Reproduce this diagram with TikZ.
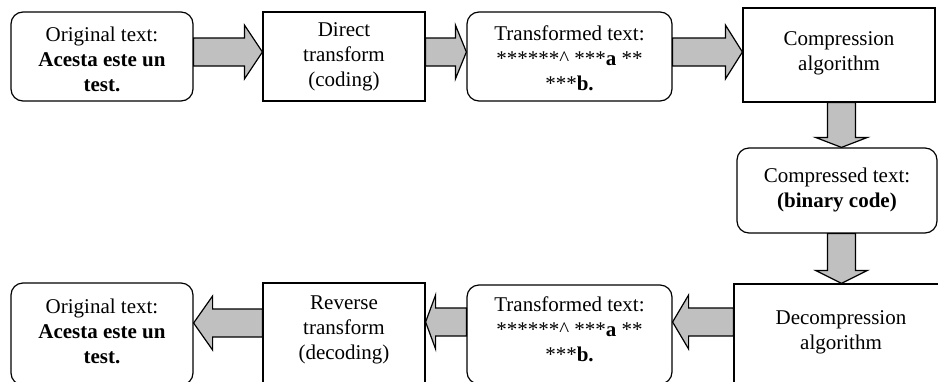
\documentclass[tikz,border=0pt]{standalone}
\usepackage{fontspec}
\setmainfont{Liberation Serif}
\usetikzlibrary{calc}
\definecolor{arrowgray}{RGB}{192,192,192}
\newcommand\rarrow[4]{%
\draw[fat] let \p1=(#1), \p2=(#2) in (\x1,#3-14) -- (\x2-#4,#3-14) -- (\x2-#4,#3-27) -- (\x2,#3) -- (\x2-#4,#3+27) -- (\x2-#4,#3+14) -- (\x1,#3+14) -- cycle;}
\newcommand\larrow[4]{%
\draw[fat] let \p1=(#1), \p2=(#2) in (\x1,#3-14) -- (\x2+#4,#3-14) -- (\x2+#4,#3-27) -- (\x2,#3) -- (\x2+#4,#3+27) -- (\x2+#4,#3+14) -- (\x1,#3+14) -- cycle;}
\newcommand\darrow[4]{%
\draw[fat] let \p1=(#1), \p2=(#2) in (#3-14,\y1) -- (#3-14,\y2+#4) -- (#3-26,\y2+#4) -- (#3,\y2) -- (#3+26,\y2+#4) -- (#3+14,\y2+#4) -- (#3+14,\y1) -- cycle;}
\begin{document}
\begin{tikzpicture}[x=1pt,y=-1pt,
 box/.style={draw=black,line width=1.2pt,inner sep=0pt,fill=white},
 rbox/.style={box,rounded corners=12pt},
 txt/.style={align=center,inner sep=0pt,font=\fontsize{21}{25}\selectfont},
 fat/.style={draw=black,fill=arrowgray,line width=1.2pt,line join=miter}]
\useasboundingbox[clip] (0,0) rectangle (938,381);
\fill[white] (0,0) rectangle (938,381);
% top row
\node[rbox,minimum width=182,minimum height=89] (A) at (102,56.5) {};
\node[txt] (At) at ($(A.center)+(0,3)$) {Original text:\\\textbf{Acesta este un}\\\textbf{test.}};
\node[box,minimum width=162,minimum height=89] (B) at (344,56.5) {};
\node[txt] (Bt) at ($(B.center)+(0,0)$) {Direct\\transform\\(coding)};
\node[rbox,minimum width=205,minimum height=89] (C) at (569.5,56.5) {};
\node[txt] (Ct) at ($(C.center)+(0,2)$) {Transformed text:\\******\textasciicircum{} ***\textbf{a} **\\***\textbf{b.}};
\node[box,minimum width=192,minimum height=94] (D) at (839,55) {};
\node[txt] (Dt) at ($(D.center)+(0,-2)$) {Compression\\algorithm};
% right column
\node[rbox,minimum width=200,minimum height=85] (E) at (837,190.5) {};
\node[txt] (Et) at ($(E.center)+(0,-1)$) {Compressed text:\\\textbf{(binary code)}};
% bottom row
\node[box,minimum width=214,minimum height=100] (F) at (841,334) {};
\node[txt] (Ft) at ($(F.center)+(0,-2)$) {Decompression\\algorithm};
\node[rbox,minimum width=205,minimum height=99] (G) at (569.5,334.5) {};
\node[txt] (Gt) at ($(G.center)+(0,-5)$) {Transformed text:\\******\textasciicircum{} ***\textbf{a} **\\***\textbf{b.}};
\node[box,minimum width=162,minimum height=101] (H) at (344,333.5) {};
\node[txt] (Ht) at ($(H.center)+(0,-4)$) {Reverse\\transform\\(decoding)};
\node[rbox,minimum width=182,minimum height=102] (I) at (102,334) {};
\node[txt] (It) at ($(I.center)+(0,-3)$) {Original text:\\\textbf{Acesta este un}\\\textbf{test.}};
% arrows
\rarrow{A.east}{B.west}{52}{18}
\rarrow{B.east}{C.west}{52}{11}
\rarrow{C.east}{D.west}{52}{17}
\darrow{D.south}{E.north}{841.5}{10}
\darrow{E.south}{F.north}{841.5}{13}
\larrow{F.west}{G.east}{322}{16}
\larrow{G.west}{H.east}{322}{10}
\larrow{H.west}{I.east}{323}{19}
\end{tikzpicture}
\end{document}
